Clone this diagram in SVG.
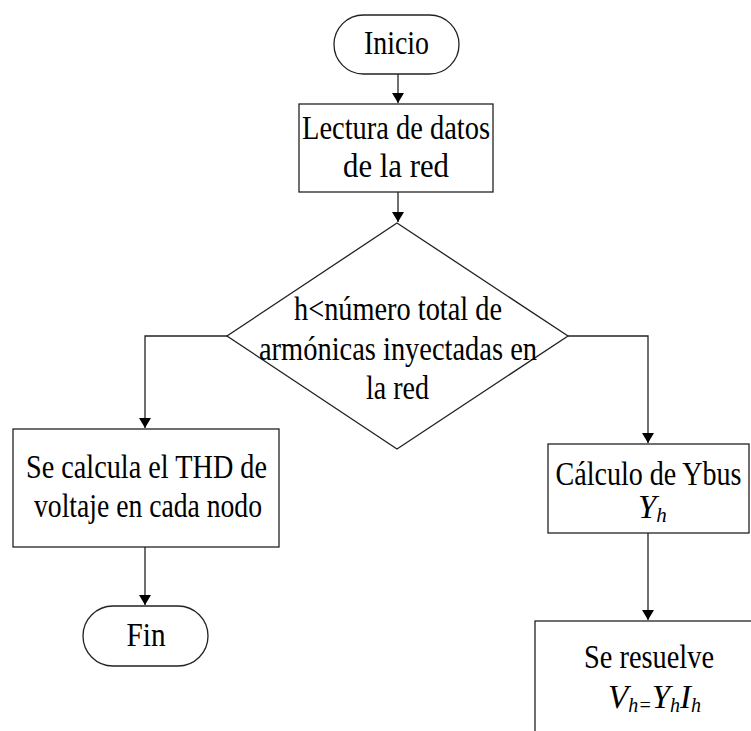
<svg xmlns="http://www.w3.org/2000/svg" width="751" height="731" viewBox="0 0 751 731">
  <style>
    .shape { fill: #ffffff; stroke: #222222; stroke-width: 1.3; }
    .conn { fill: none; stroke: #222222; stroke-width: 1.3; }
    text { font-family: 'Liberation Serif', 'Times New Roman', 'DejaVu Serif', serif; font-size: 33px; fill: #000000; }
    .i { font-style: italic; }
  </style>
  <defs>
    <marker id="arrow" viewBox="0 0 10 12" refX="10" refY="6" markerWidth="10" markerHeight="12" markerUnits="userSpaceOnUse" orient="auto">
      <path d="M0,0 L10,6 L0,12 Z" fill="#000000"/>
    </marker>
  </defs>

  <rect width="751" height="731" fill="#ffffff"/>

  <g id="connectors">
    <line class="conn" x1="398" y1="74" x2="398" y2="103" marker-end="url(#arrow)"/>
    <line class="conn" x1="398" y1="192" x2="398" y2="222" marker-end="url(#arrow)"/>
    <polyline class="conn" points="227,336 145,336 145,428" marker-end="url(#arrow)"/>
    <polyline class="conn" points="568,336 648,336 648,443" marker-end="url(#arrow)"/>
    <line class="conn" x1="145" y1="547" x2="145" y2="605" marker-end="url(#arrow)"/>
    <line class="conn" x1="648" y1="533" x2="648" y2="620" marker-end="url(#arrow)"/>
  </g>

  <g id="inicio">
    <rect class="shape" x="334" y="15" width="125" height="59" rx="29.5" ry="29.5"/>
    <text x="396.5" y="54" text-anchor="middle" textLength="65" lengthAdjust="spacingAndGlyphs">Inicio</text>
  </g>

  <g id="lectura">
    <rect class="shape" x="299" y="104" width="194" height="88"/>
    <text x="396" y="139" text-anchor="middle" textLength="188" lengthAdjust="spacingAndGlyphs">Lectura de datos</text>
    <text x="396" y="177" text-anchor="middle" textLength="106" lengthAdjust="spacingAndGlyphs">de la red</text>
  </g>

  <g id="decision">
    <polygon class="shape" points="397,223 568,336 397,449 227,336"/>
    <text x="398" y="320" text-anchor="middle" textLength="208" lengthAdjust="spacingAndGlyphs">h&lt;número total de</text>
    <text x="398" y="360" text-anchor="middle" textLength="278" lengthAdjust="spacingAndGlyphs">armónicas inyectadas en</text>
    <text x="397.5" y="399" text-anchor="middle" textLength="63" lengthAdjust="spacingAndGlyphs">la red</text>
  </g>

  <g id="thd">
    <rect class="shape" x="13" y="429" width="266" height="118"/>
    <text x="146.5" y="478" text-anchor="middle" textLength="241" lengthAdjust="spacingAndGlyphs">Se calcula el THD de</text>
    <text x="148" y="517" text-anchor="middle" textLength="228" lengthAdjust="spacingAndGlyphs">voltaje en cada nodo</text>
  </g>

  <g id="fin">
    <rect class="shape" x="83" y="606" width="125" height="60" rx="30" ry="30"/>
    <text x="146" y="646" text-anchor="middle" textLength="39" lengthAdjust="spacingAndGlyphs">Fin</text>
  </g>

  <g id="ybus">
    <rect class="shape" x="548" y="444" width="201" height="89"/>
    <text x="648.5" y="485" font-size="31" text-anchor="middle" textLength="186" lengthAdjust="spacingAndGlyphs">Cálculo de Ybus</text>
    <text class="i" x="638" y="518">Y<tspan font-size="21" dy="4">h</tspan></text>
  </g>

  <g id="resuelve">
    <rect class="shape" x="535" y="621" width="226" height="120"/>
    <text x="649" y="668" text-anchor="middle" textLength="130" lengthAdjust="spacingAndGlyphs">Se resuelve</text>
    <text class="i" x="608" y="708" font-size="31">V<tspan font-size="20" dy="4">h=</tspan><tspan dy="-4">Y</tspan><tspan font-size="20" dy="4">h</tspan><tspan dy="-4">I</tspan><tspan font-size="20" dy="4">h</tspan></text>
  </g>
</svg>
